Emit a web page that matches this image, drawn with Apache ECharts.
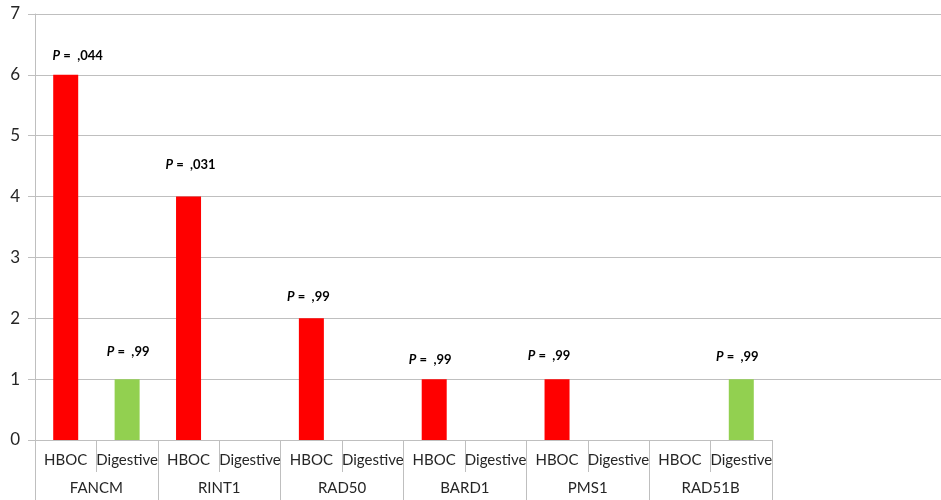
<!DOCTYPE html>
<html>
<head>
<meta charset="utf-8">
<script src="https://cdn.jsdelivr.net/npm/echarts@6/dist/echarts.min.js"></script>
<style>
html,body{margin:0;padding:0;background:#fff;}
#chart{width:941px;height:500px;}
</style>
</head>
<body>
<div id="chart"></div>
<script>
var genes = ['FANCM', 'RINT1', 'RAD50', 'BARD1', 'PMS1', 'RAD51B'];
var groups = ['HBOC', 'Digestive'];
var hboc = [6, 4, 2, 1, 1, 0];
var digestive = [1, 0, 0, 0, 0, 1];
var hbocP = [',044', ',031', ',99', ',99', ',99', null];
var digestiveP = [',99', null, null, null, null, ',99'];
var yTicks = [0, 1, 2, 3, 4, 5, 6, 7];

// label placement (layout only): extra lift above bar top, horizontal nudge
var hbocLift = [0, 12, 2, 0, 4, 0];
var hbocNudge = [12, 2, -3, -4, -8, 0];
var digLift = [8, 0, 0, 0, 0, 3];
var digNudge = [1, 0, 0, 0, 0, -4];

var colors = { HBOC: '#FF0000', Digestive: '#92D050' };
var FONT = 'Lato, "Liberation Sans", sans-serif';

var cats = [];
var barData = [];
for (var g = 0; g < genes.length; g++) {
  var vals = [hboc[g], digestive[g]];
  var ps = [hbocP[g], digestiveP[g]];
  var lifts = [hbocLift[g], digLift[g]];
  var nudges = [hbocNudge[g], digNudge[g]];
  for (var k = 0; k < groups.length; k++) {
    cats.push(groups[k]);
    var p = ps[k];
    barData.push({
      value: vals[k],
      itemStyle: { color: colors[groups[k]] },
      label: {
        show: !!p,
        formatter: p ? '{i|P}{b| =  ' + p + '}' : '',
        offset: [nudges[k], -lifts[k]]
      }
    });
  }
}

var chart = echarts.init(document.getElementById('chart'), null, { renderer: 'canvas' });
chart.setOption({
  animation: false,
  backgroundColor: '#ffffff',
  grid: [
    { left: 35, right: 0, top: 14, bottom: 60, containLabel: false },
    { left: 35, width: 737, top: 14, bottom: 60, containLabel: false }
  ],
  xAxis: [
    { gridIndex: 0, type: 'value', show: false, min: 0, max: 1 },
    {
      gridIndex: 1, type: 'category', data: cats, position: 'bottom',
      axisLine: { show: true, lineStyle: { color: '#bfbfbf', width: 1 } },
      axisTick: { show: true, length: 32, interval: 0, lineStyle: { color: '#bfbfbf' } },
      axisLabel: { interval: 0, margin: 13, fontSize: 15, color: '#262626', fontFamily: FONT }
    },
    {
      gridIndex: 1, type: 'category', data: genes, position: 'bottom',
      axisLine: { show: false },
      axisTick: { show: true, length: 60, interval: 0, lineStyle: { color: '#bfbfbf' } },
      axisLabel: { interval: 0, margin: 41, fontSize: 15, color: '#262626', fontFamily: FONT }
    }
  ],
  yAxis: [
    {
      gridIndex: 0, type: 'value', min: yTicks[0], max: yTicks[yTicks.length - 1], interval: 1,
      axisLine: { show: true, lineStyle: { color: '#bfbfbf' } },
      axisTick: { show: true, length: 7, lineStyle: { color: '#bfbfbf' } },
      axisLabel: { margin: 15, fontSize: 17, color: '#262626', fontFamily: FONT },
      splitLine: {
        show: true,
        lineStyle: {
          color: ['rgba(0,0,0,0)', '#bfbfbf', '#bfbfbf', '#bfbfbf', '#bfbfbf', '#bfbfbf', '#bfbfbf', '#bfbfbf'],
          width: 1
        }
      }
    },
    { gridIndex: 1, type: 'value', min: yTicks[0], max: yTicks[yTicks.length - 1], interval: 1, show: false }
  ],
  series: [
    {
      type: 'bar',
      xAxisIndex: 1,
      yAxisIndex: 1,
      barWidth: 25,
      data: barData,
      label: {
        position: 'top',
        distance: 13,
        color: '#000',
        rich: {
          i: { fontStyle: 'italic', fontWeight: 'bold', fontSize: 13, fontFamily: FONT, color: '#000' },
          b: { fontWeight: 'bold', fontSize: 13, fontFamily: FONT, color: '#000' }
        }
      }
    }
  ]
});
</script>
</body>
</html>
